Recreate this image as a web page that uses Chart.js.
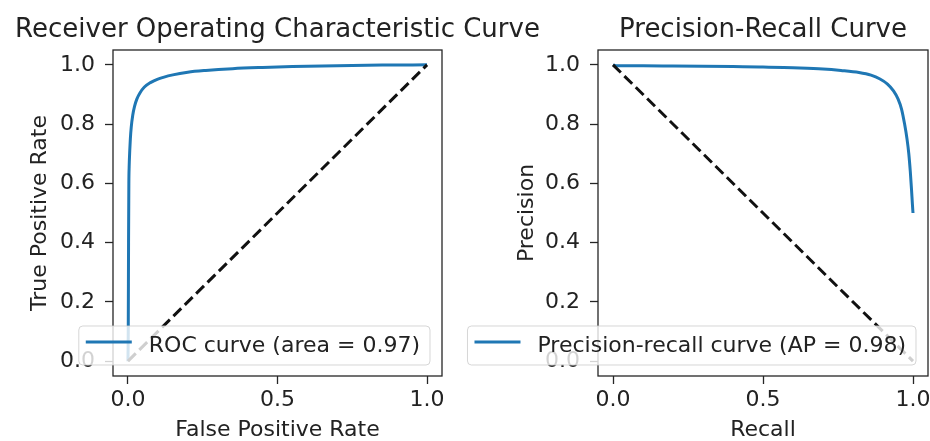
<!DOCTYPE html>
<html>
<head>
<meta charset="utf-8">
<script src="https://cdn.jsdelivr.net/npm/chart.js@4.4.0/dist/chart.umd.min.js"></script>
<style>
  body { margin: 0; background: #fff; }
  canvas { position: absolute; top: 0; }
</style>
</head>
<body>
<canvas id="rocChart" width="930" height="441" style="left:0"></canvas>
<canvas id="prChart" width="465" height="441" style="left:465px"></canvas>
<script>
// ROC curve
const rocFpr = [0, 0.001, 0.002, 0.003, 0.004, 0.006, 0.008, 0.011, 0.016, 0.022, 0.03, 0.04, 0.055, 0.075, 0.1, 0.15, 0.2, 0.26, 0.35, 0.45, 0.55, 0.7, 0.85, 1.0];
const rocTpr = [0, 0.1, 0.4, 0.6, 0.655, 0.71, 0.75, 0.79, 0.83, 0.86, 0.885, 0.905, 0.925, 0.94, 0.952, 0.966, 0.975, 0.981, 0.987, 0.991, 0.994, 0.997, 0.999, 1.0];
const rocLabel = 'ROC curve (area = 0.97)';

// precision-recall curve
const prRecall = [0, 0.01, 0.1, 0.2, 0.3, 0.4, 0.5, 0.6, 0.7, 0.76, 0.82, 0.86, 0.89, 0.915, 0.935, 0.95, 0.962, 0.972, 0.98, 0.986, 0.991, 0.995, 0.998, 1.0];
const prPrecision = [1.0, 0.997, 0.997, 0.996, 0.995, 0.994, 0.993, 0.99, 0.986, 0.981, 0.974, 0.965, 0.952, 0.935, 0.912, 0.885, 0.85, 0.80, 0.75, 0.70, 0.64, 0.58, 0.53, 0.50];
const prLabel = 'Precision-recall curve (AP = 0.98)';

// diagonal reference lines
const rocDiagX = [0, 1];
const rocDiagY = [0, 1];
const prDiagX = [0, 1];
const prDiagY = [1, 0];

const xTicks = [0, 0.5, 1.0];
const yTicks = [0, 0.2, 0.4, 0.6, 0.8, 1.0];

const FONT = 'DejaVu Sans';
const INK = '#222';
const BLUE = '#1f77b4';

Chart.defaults.font.family = FONT;
Chart.defaults.color = INK;

const toPoints = (xs, ys) => xs.map((x, i) => ({x: x, y: ys[i]}));

// frame, title and lower-right legend, drawn like a matplotlib axes
const axesDecor = {
  id: 'axesDecor',
  afterDraw(chart, args, opts) {
    const {ctx, chartArea: a} = chart;
    ctx.save();
    ctx.strokeStyle = '#262626';
    ctx.lineWidth = 1.3;
    ctx.strokeRect(a.left, a.top, a.right - a.left, a.bottom - a.top);

    ctx.fillStyle = INK;
    ctx.font = '26px "' + FONT + '"';
    ctx.textAlign = 'center';
    ctx.textBaseline = 'alphabetic';
    ctx.fillText(opts.title, (a.left + a.right) / 2, 36.5);

    const ds = chart.data.datasets.find(d => d.label);
    ctx.font = '22px "' + FONT + '"';
    const tw = ctx.measureText(ds.label).width;
    const w = 7 + 46 + 17 + tw + 10, h = 39;
    const x = a.right - 12 - w, y = a.bottom - 11 - h;
    ctx.beginPath();
    ctx.roundRect(x, y, w, h, 4);
    ctx.fillStyle = 'rgba(255,255,255,0.8)';
    ctx.fill();
    ctx.strokeStyle = 'rgba(204,204,204,0.8)';
    ctx.lineWidth = 1;
    ctx.stroke();

    ctx.beginPath();
    ctx.moveTo(x + 7, y + 16);
    ctx.lineTo(x + 53, y + 16);
    ctx.strokeStyle = ds.borderColor;
    ctx.lineWidth = 3;
    ctx.stroke();

    ctx.fillStyle = INK;
    ctx.textAlign = 'left';
    ctx.fillText(ds.label, x + 70, y + 25.5);
    ctx.restore();
  }
};

function makeChart(id, cfg) {
  return new Chart(document.getElementById(id), {
    type: 'line',
    data: {
      datasets: [
        {
          label: cfg.label,
          data: toPoints(cfg.xs, cfg.ys),
          borderColor: BLUE,
          borderWidth: 3,
          pointRadius: 0,
          cubicInterpolationMode: 'monotone',
          order: 1
        },
        {
          data: toPoints(cfg.diagX, cfg.diagY),
          borderColor: '#111',
          borderWidth: 3,
          borderDash: [11, 5],
          pointRadius: 0,
          order: 0
        }
      ]
    },
    options: {
      responsive: false,
      animation: false,
      events: [],
      layout: { padding: { left: 0, top: 50, right: cfg.padRight, bottom: 0 } },
      plugins: {
        legend: { display: false },
        tooltip: { enabled: false },
        axesDecor: { title: cfg.title }
      },
      scales: {
        x: {
          type: 'linear',
          min: -0.05,
          max: 1.05,
          afterBuildTicks: s => { s.ticks = xTicks.map(v => ({value: v})); },
          afterFit: s => { s.height = 65; s.paddingLeft = 0; s.paddingRight = 0; },
          border: { display: false },
          grid: { drawOnChartArea: false, tickLength: 8, tickWidth: 1.3, tickColor: '#262626' },
          ticks: { padding: 3, font: { size: 22 }, callback: v => v.toFixed(1) },
          title: { display: true, text: cfg.xTitle, font: { size: 22, lineHeight: 1 }, padding: { top: 0, bottom: 0 } }
        },
        y: {
          type: 'linear',
          min: -0.05,
          max: 1.05,
          afterBuildTicks: s => { s.ticks = yTicks.map(v => ({value: v})); },
          afterFit: s => { s.width = cfg.yWidth; },
          border: { display: false },
          grid: { drawOnChartArea: false, tickLength: 8, tickWidth: 1.3, tickColor: '#262626' },
          ticks: { padding: 10, font: { size: 22 }, callback: v => v.toFixed(1) },
          title: { display: true, text: cfg.yTitle, font: { size: 22, lineHeight: 1 }, padding: { top: cfg.yTitlePad, bottom: 0 } }
        }
      }
    },
    plugins: [axesDecor]
  });
}

makeChart('rocChart', {
  title: 'Receiver Operating Characteristic Curve',
  label: rocLabel,
  xs: rocFpr, ys: rocTpr,
  diagX: rocDiagX, diagY: rocDiagY,
  xTitle: 'False Positive Rate',
  yTitle: 'True Positive Rate',
  yWidth: 113, yTitlePad: 29, padRight: 488
});

makeChart('prChart', {
  title: 'Precision-Recall Curve',
  label: prLabel,
  xs: prRecall, ys: prPrecision,
  diagX: prDiagX, diagY: prDiagY,
  xTitle: 'Recall',
  yTitle: 'Precision',
  yWidth: 133, yTitlePad: 51, padRight: 2
});
</script>
</body>
</html>
